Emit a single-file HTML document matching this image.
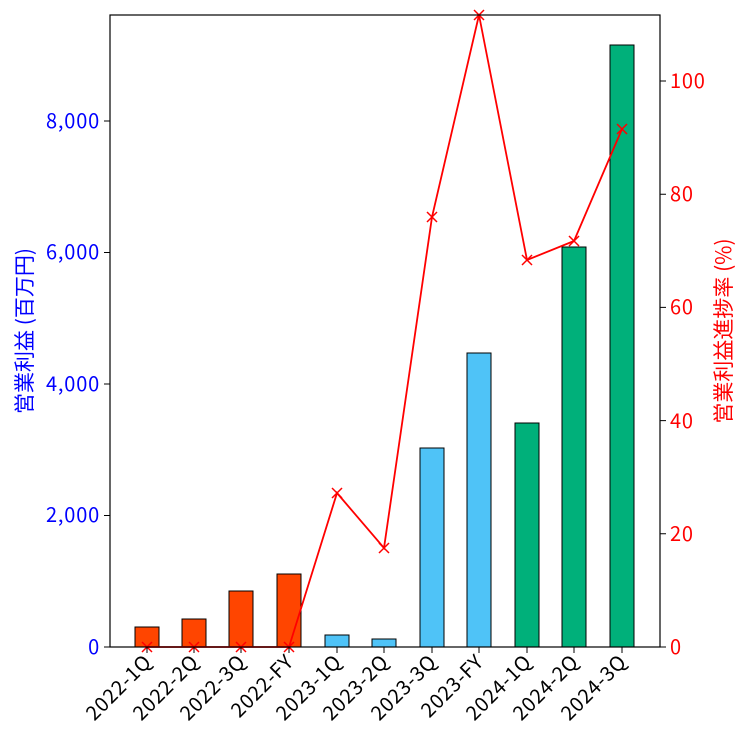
<!DOCTYPE html>
<html><head><meta charset="utf-8"><style>body{margin:0;background:#fff}svg{display:block}</style></head>
<body>
<svg width="750" height="750" xmlns="http://www.w3.org/2000/svg" font-family="Noto Sans CJK JP, sans-serif">
<g stroke="#000" stroke-width="1">
<rect x="135" y="627" width="24" height="20" fill="#FF4500"/>
<rect x="182" y="619" width="24" height="28" fill="#FF4500"/>
<rect x="229" y="591" width="24" height="56" fill="#FF4500"/>
<rect x="277" y="574" width="24" height="73" fill="#FF4500"/>
<rect x="325" y="635" width="24" height="12" fill="#4FC3F7"/>
<rect x="372" y="639" width="24" height="8" fill="#4FC3F7"/>
<rect x="420" y="448" width="24" height="199" fill="#4FC3F7"/>
<rect x="467" y="353" width="24" height="294" fill="#4FC3F7"/>
<rect x="515" y="423" width="24" height="224" fill="#00B07A"/>
<rect x="562" y="247" width="24" height="400" fill="#00B07A"/>
<rect x="610" y="45" width="24" height="602" fill="#00B07A"/>
</g>
<polyline fill="none" stroke="#FF0000" stroke-width="1.8" points="147,647 194,647 241,647 289,647 337,493 384,548 432,217 479,15 527,260 574,241 622,129"/>
<g stroke="#FF0000" stroke-width="1.5">
<path d="M142,642l10,10M152,642l-10,10M189,642l10,10M199,642l-10,10M236,642l10,10M246,642l-10,10M284,642l10,10M294,642l-10,10M332,488l10,10M342,488l-10,10M379,543l10,10M389,543l-10,10M427,212l10,10M437,212l-10,10M474,10l10,10M484,10l-10,10M522,255l10,10M532,255l-10,10M569,236l10,10M579,236l-10,10M617,124l10,10M627,124l-10,10"/>
</g>
<rect x="110" y="15" width="550" height="632" fill="none" stroke="#000" stroke-width="1.2"/>
<g stroke="#000"><path d="M104,647h6M104,515.5h6M104,384h6M104,252.5h6M104,121h6"/></g>
<g stroke="#000"><path d="M660,647h6M660,533.8h6M660,420.6h6M660,307.4h6M660,194.2h6M660,81h6"/></g>
<g fill="#0000FF" font-size="20" letter-spacing="0.8" text-anchor="end">
<text x="100" y="654">0</text><text x="100" y="522">2,000</text><text x="100" y="391">4,000</text><text x="100" y="259">6,000</text><text x="100" y="128">8,000</text>
</g>
<g fill="#FF0000" font-size="20" letter-spacing="0.8">
<text x="670" y="654">0</text><text x="670" y="541">20</text><text x="670" y="428">40</text><text x="670" y="314">60</text><text x="670" y="201">80</text><text x="670" y="88">100</text>
</g>
<g stroke="#000"><path d="M147,647v6M194,647v6M241,647v6M289,647v6M337,647v6M384,647v6M432,647v6M479,647v6M527,647v6M574,647v6M622,647v6"/></g>
<g font-size="20" letter-spacing="0.8" text-anchor="end">
<text transform="translate(153,663) rotate(-45)">2022-1Q</text>
<text transform="translate(200,663) rotate(-45)">2022-2Q</text>
<text transform="translate(247,663) rotate(-45)">2022-3Q</text>
<text transform="translate(295,663) rotate(-45)">2022-FY</text>
<text transform="translate(343,663) rotate(-45)">2023-1Q</text>
<text transform="translate(390,663) rotate(-45)">2023-2Q</text>
<text transform="translate(438,663) rotate(-45)">2023-3Q</text>
<text transform="translate(485,663) rotate(-45)">2023-FY</text>
<text transform="translate(533,663) rotate(-45)">2024-1Q</text>
<text transform="translate(580,663) rotate(-45)">2024-2Q</text>
<text transform="translate(628,663) rotate(-45)">2024-3Q</text>
</g>
<text transform="translate(32,331) rotate(-90)" text-anchor="middle" fill="#0000FF" font-size="21">営業利益 (百万円)</text>
<text transform="translate(731,331) rotate(-90)" text-anchor="middle" fill="#FF0000" font-size="21">営業利益進捗率 (%)</text>
</svg>
</body></html>
